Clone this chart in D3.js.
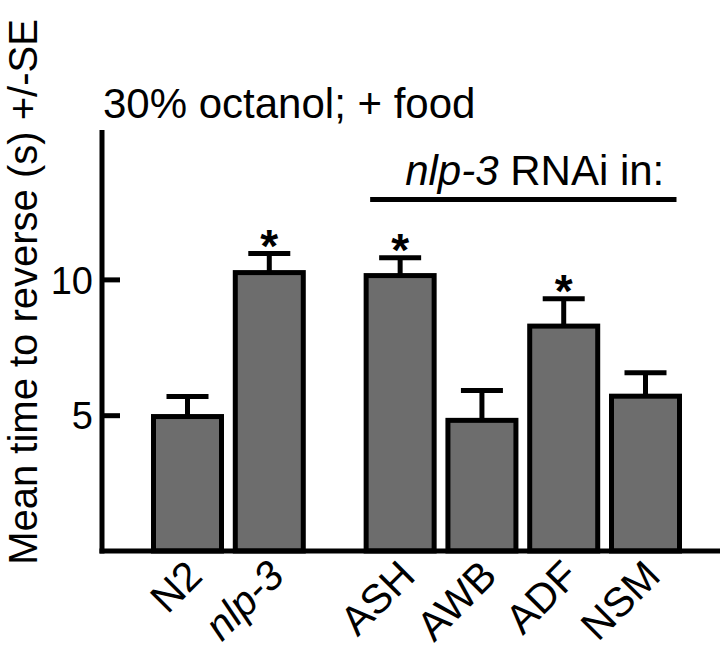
<!DOCTYPE html>
<html>
<head>
<meta charset="utf-8">
<script src="https://cdn.jsdelivr.net/npm/d3@7"></script>
<style>
  body { margin: 0; background: #fff; }
  text { font-family: "Liberation Sans", Arial, Helvetica, sans-serif; fill: #000; }
</style>
</head>
<body>
<div id="chart"></div>
<script>
// strains / neurons, and which group they belong to (0 = controls, 1 = nlp-3 RNAi in neuron)
const categories = ["N2", "nlp-3", "ASH", "AWB", "ADF", "NSM"];
const italicCats = ["nlp-3"];
const groups = [0, 0, 1, 1, 1, 1];
// mean time to reverse (s) and standard error
const means = [4.95, 10.25, 10.14, 4.81, 8.28, 5.70];
const errors = [0.74, 0.70, 0.66, 1.10, 1.01, 0.86];
const significant = [false, true, true, false, true, false];
const yTicks = [5, 10];

const width = 720, height = 650;
const groupGap = 0.6;

const svg = d3.select("#chart")
    .append("svg")
    .attr("width", width)
    .attr("height", height);

const data = categories.map(function (c, i) {
    return { name: c, pos: i + groups[i] * groupGap, mean: means[i], se: errors[i], sig: significant[i] };
});

const xScale = d3.scaleLinear()
    .domain([0, d3.max(data, d => d.pos)])
    .range([187.5, 645.5]);

const yScale = d3.scaleLinear()
    .domain([0, 15.5])
    .range([551, 130]);

const barW = 68;
const capW = 42;

// bars
svg.selectAll(".bar")
    .data(data)
    .enter().append("rect")
    .attr("class", "bar")
    .attr("x", d => xScale(d.pos) - barW / 2)
    .attr("y", d => yScale(d.mean))
    .attr("width", barW)
    .attr("height", d => yScale(0) - yScale(d.mean))
    .attr("fill", "#6d6d6d")
    .attr("stroke", "#000")
    .attr("stroke-width", 5);

// error bars (upper only)
svg.selectAll(".err")
    .data(data)
    .enter().append("line")
    .attr("class", "err")
    .attr("x1", d => xScale(d.pos))
    .attr("x2", d => xScale(d.pos))
    .attr("y1", d => yScale(d.mean))
    .attr("y2", d => yScale(d.mean + d.se))
    .attr("stroke", "#000")
    .attr("stroke-width", 5);

svg.selectAll(".cap")
    .data(data)
    .enter().append("line")
    .attr("class", "cap")
    .attr("x1", d => xScale(d.pos) - capW / 2)
    .attr("x2", d => xScale(d.pos) + capW / 2)
    .attr("y1", d => yScale(d.mean + d.se))
    .attr("y2", d => yScale(d.mean + d.se))
    .attr("stroke", "#000")
    .attr("stroke-width", 5);

// asterisks
svg.selectAll(".star")
    .data(data.filter(d => d.sig))
    .enter().append("text")
    .attr("class", "star")
    .attr("x", d => xScale(d.pos))
    .attr("y", d => yScale(d.mean + d.se) + 8)
    .attr("text-anchor", "middle")
    .style("font-size", "46px")
    .style("font-weight", "bold")
    .text("*");

// y axis
const yAxis = d3.axisRight(yScale)
    .tickValues(yTicks)
    .tickSize(18)
    .tickFormat(d3.format("d"));

const yG = svg.append("g")
    .attr("transform", "translate(102,0)")
    .call(yAxis);
yG.select(".domain").remove();
yG.selectAll(".tick line").attr("stroke", "#000").attr("stroke-width", 5);
yG.selectAll(".tick text")
    .attr("x", -9)
    .attr("dy", "0.36em")
    .attr("text-anchor", "end")
    .style("font-size", "38px");
yG.append("line")
    .attr("x1", 0).attr("x2", 0)
    .attr("y1", yScale.range()[1])
    .attr("y2", yScale(0) + 2.5)
    .attr("stroke", "#000")
    .attr("stroke-width", 5);

// x axis baseline
svg.append("line")
    .attr("x1", 99.5)
    .attr("x2", width)
    .attr("y1", yScale(0))
    .attr("y2", yScale(0))
    .attr("stroke", "#000")
    .attr("stroke-width", 5);

// category labels, rotated
svg.selectAll(".xlab")
    .data(data)
    .enter().append("text")
    .attr("class", "xlab")
    .attr("transform", d => "translate(" + (xScale(d.pos) + 17) + ",578) rotate(-45)")
    .attr("text-anchor", "end")
    .style("font-size", "41px")
    .style("font-style", d => italicCats.includes(d.name) ? "italic" : "normal")
    .text(d => d.name);

// y axis title
svg.append("text")
    .attr("transform", "translate(37,292) rotate(-90)")
    .attr("text-anchor", "middle")
    .style("font-size", "40px")
    .text("Mean time to reverse (s) +/-SE");

// chart title
svg.append("text")
    .attr("x", 103)
    .attr("y", 118)
    .style("font-size", "42px")
    .text("30% octanol; + food");

// group bracket for the RNAi neurons
const rnai = data.filter(d => d.pos >= 2);
const lineX1 = xScale(rnai[0].pos) - 30;
const lineX2 = xScale(rnai[rnai.length - 1].pos) + 31;
svg.append("line")
    .attr("x1", lineX1)
    .attr("x2", lineX2)
    .attr("y1", 199.5)
    .attr("y2", 199.5)
    .attr("stroke", "#000")
    .attr("stroke-width", 5);

const grpLabel = svg.append("text")
    .attr("x", lineX1 + 35)
    .attr("y", 185)
    .style("font-size", "42px");
grpLabel.append("tspan").style("font-style", "italic").text("nlp-3");
grpLabel.append("tspan").text(" RNAi in:");
</script>
</body>
</html>
